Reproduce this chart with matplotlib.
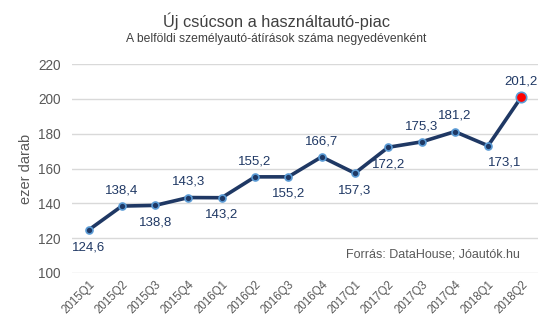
import matplotlib.pyplot as plt

plt.rcParams['font.family'] = ['Liberation Sans', 'DejaVu Sans']

quarters = ["2015Q1", "2015Q2", "2015Q3", "2015Q4", "2016Q1", "2016Q2", "2016Q3",
            "2016Q4", "2017Q1", "2017Q2", "2017Q3", "2017Q4", "2018Q1", "2018Q2"]
values = [124.6, 138.4, 138.8, 143.3, 143.2, 155.2, 155.2,
          166.7, 157.3, 172.2, 175.3, 181.2, 173.1, 201.2]
# label position for each point: above / below
label_pos = ["below", "above", "below", "above", "below", "above", "below",
             "above", "below", "below", "above", "above", "belowright", "above"]

navy = "#1f3864"
edge = "#5b9bd5"
gray = "#595959"

fig = plt.figure(figsize=(5.53, 3.34), dpi=100)
ax = fig.add_axes([0.130, 0.183, 0.843, 0.625])

x = list(range(len(quarters)))
ax.plot(x, values, color=navy, lw=2.6, zorder=3)
ax.plot(x[:-1], values[:-1], 'o', ms=5, mfc=navy, mec=edge, mew=1.2, zorder=4)
ax.plot(x[-1], values[-1], 'o', ms=7.5, mfc="#ff0000", mec=edge, mew=1.2, zorder=5)

for i, (v, p) in enumerate(zip(values, label_pos)):
    txt = f"{v:.1f}".replace(".", ",")
    if p == "above":
        ax.annotate(txt, (i, v), xytext=(0, 7), textcoords="offset points",
                    ha="center", va="bottom", fontsize=9.5, color=navy)
    elif p == "below":
        ax.annotate(txt, (i, v), xytext=(0, -8), textcoords="offset points",
                    ha="center", va="top", fontsize=9.5, color=navy)
    else:
        ax.annotate(txt, (i, v), xytext=(0, -8), textcoords="offset points",
                    ha="left", va="top", fontsize=9.5, color=navy)

ax.set_xlim(-0.5, len(quarters) - 0.5)
ax.set_ylim(100, 220)
ax.set_yticks([100, 120, 140, 160, 180, 200, 220])
ax.set_xticks(x)
ax.set_xticklabels(quarters, rotation=45, ha="right", rotation_mode="anchor",
                   fontsize=8.3, color=gray)
ax.tick_params(axis="y", labelsize=9.8, labelcolor=gray, length=0, pad=8)
ax.tick_params(axis="x", length=0, pad=4)
ax.grid(axis="y", color="#d9d9d9", lw=1)
ax.set_axisbelow(True)
for s in ax.spines.values():
    s.set_visible(False)

ax.set_ylabel("ezer darab", fontsize=10.5, color=gray, labelpad=4)

ax.text(0.961, 0.088, "Forrás: DataHouse; Jóautók.hu", transform=ax.transAxes,
        ha="right", va="center", fontsize=9, color=gray)

fig.text(0.5, 0.937, "Új csúcson a használtautó-piac", ha="center", va="center",
         fontsize=11.8, color="#404040")
fig.text(0.5, 0.883, "A belföldi személyautó-átírások száma negyedévenként", ha="center",
         va="center", fontsize=8.7, color="#404040")

fig.savefig("out.png", dpi=100)
